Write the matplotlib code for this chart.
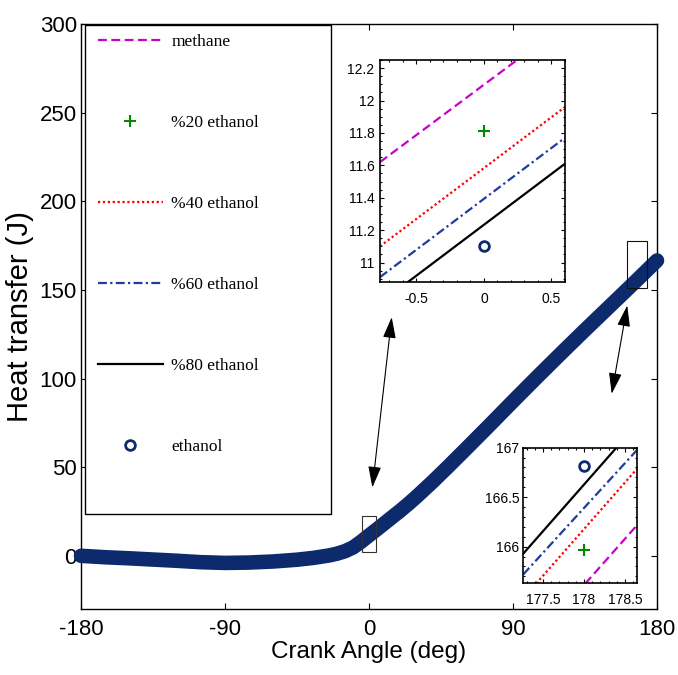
import matplotlib
matplotlib.use("Agg")
import matplotlib.pyplot as plt
from matplotlib.patches import Rectangle
from matplotlib.ticker import MultipleLocator

# ---------------- data ----------------
crank_angle = [-180, -165, -150, -135, -120, -105, -90, -75, -60, -45, -35, -25, -20, -15, -10, -5,
               0, 5, 10, 15, 20, 25, 30, 40, 50, 60, 75, 90, 105, 120, 135, 150, 165, 180]
heat_transfer = [0.0, -0.8, -1.4, -2.1, -2.8, -3.6, -4.0, -3.8, -3.2, -2.2, -1.2, 0.2, 1.2, 2.6, 4.7,
                 7.9, 11.5, 15.0, 18.6, 22.2, 25.8, 29.6, 33.6, 42.0, 50.8, 59.8, 73.4, 87.2,
                 100.8, 114.2, 127.4, 140.4, 153.4, 166.6]

series_names = ["methane", "%20 ethanol", "%40 ethanol", "%60 ethanol", "%80 ethanol", "ethanol"]

# zoom near 0 deg
zoom1_x = [-0.77, 0.6]
zoom1_methane = [11.62, 12.47]
zoom1_p40 = [11.10, 11.96]
zoom1_p60 = [10.91, 11.77]
zoom1_p80 = [10.75, 11.61]
zoom1_pt_x = [0]
zoom1_p20 = [11.81]
zoom1_eth = [11.10]

# zoom near 178 deg
zoom2_x = [177.26, 178.65]
zoom2_methane = [164.92, 166.22]
zoom2_p40 = [165.48, 166.79]
zoom2_p60 = [165.72, 166.98]
zoom2_p80 = [165.93, 167.24]
zoom2_pt_x = [178]
zoom2_p20 = [165.97]
zoom2_eth = [166.82]

x_ticks = [-180, -90, 0, 90, 180]
y_ticks = [0, 50, 100, 150, 200, 250, 300]

# ---------------- style ----------------
SANS = ["Liberation Sans", "DejaVu Sans"]
SERIF = ["Liberation Serif", "DejaVu Serif"]

C_MAG = "#cc00cc"
C_GRN = "#008a00"
C_RED = "#ff0000"
C_BLU = "#1f3c9e"
C_BLK = "#000000"
C_NAVY = "#0c2a6c"

W, H = 678, 675
fig = plt.figure(figsize=(W / 100, H / 100), dpi=100)

def fx(px):
    return px / W

def fy(py):
    return 1 - py / H

# main axes: px left 81, right 657, top 24, bottom 609
ax = fig.add_axes([fx(81), fy(609), (657 - 81) / W, (609 - 24) / H])
ax.plot(crank_angle, heat_transfer, color=C_NAVY, lw=10.5, solid_capstyle="round",
        solid_joinstyle="round", zorder=3, clip_on=False)
ax.set_xlim(-180, 180)
ax.set_ylim(-30, 300)
ax.set_xticks(x_ticks)
ax.set_yticks(y_ticks)
ax.set_xticklabels([str(v) for v in x_ticks], family=SANS, fontsize=16)
ax.set_yticklabels([str(v) for v in y_ticks], family=SANS, fontsize=16)
ax.tick_params(direction="in", top=True, right=True, length=4, width=0.8)
ax.tick_params(axis="x", pad=7)
ax.tick_params(axis="y", pad=3)
for s in ax.spines.values():
    s.set_linewidth(1.0)
ax.set_xlabel("Crank Angle (deg)", family=SANS, fontsize=17.5, labelpad=1)
ax.set_ylabel("Heat transfer (J)", family=SANS, fontsize=21, labelpad=4)

# zoom rectangles
ax.add_patch(Rectangle((-4.6, 2.3), 8.8, 20.3, fill=False, ec="#333333", lw=0.8, zorder=4))
ax.add_patch(Rectangle((161.4, 151.0), 12.2, 26.4, fill=False, ec="#111111", lw=0.8, zorder=4))

# double arrows
arrow_kw = dict(arrowstyle="<|-|>,head_length=1.3,head_width=0.4", color="black", lw=0.8,
                shrinkA=0, shrinkB=0)
ax.annotate("", xy=(14.2, 134.6), xytext=(2.1, 38.6), arrowprops=arrow_kw, zorder=5)
ax.annotate("", xy=(161.4, 141.2), xytext=(151.7, 91.4), arrowprops=arrow_kw, zorder=5)

# legend frame (MATLAB style box)
ax.add_patch(Rectangle((fx(85), fy(514)), (330.7 - 85) / W, (514 - 25) / H,
                       transform=fig.transFigure, fill=True, fc="white", ec="black",
                       lw=1.0, zorder=6))

def style_inset(a, xt, yt, xlabels, ylabels, xminor, yminor, ypad):
    a.set_xticks(xt)
    a.set_yticks(yt)
    a.set_xticklabels(xlabels, family=SANS, fontsize=10)
    a.set_yticklabels(ylabels, family=SANS, fontsize=10)
    a.xaxis.set_minor_locator(MultipleLocator(xminor))
    a.yaxis.set_minor_locator(MultipleLocator(yminor))
    a.tick_params(which="both", direction="in", top=True, right=True, width=0.8)
    a.tick_params(which="major", length=3)
    a.tick_params(which="minor", length=1.5)
    a.tick_params(axis="x", pad=7)
    a.tick_params(axis="y", pad=ypad)
    for s in a.spines.values():
        s.set_linewidth(1.2)

# inset 1: px left 380, right 565, top 60, bottom 282
ax1 = fig.add_axes([fx(380), fy(282), (565 - 380) / W, (282 - 60) / H])
l_meth, = ax1.plot(zoom1_x, zoom1_methane, color=C_MAG, ls=(0, (4, 2)), lw=1.6)
l_p20, = ax1.plot(zoom1_pt_x, zoom1_p20, color=C_GRN, ls="none", marker="+", ms=8, mew=1.5)
l_p40, = ax1.plot(zoom1_x, zoom1_p40, color=C_RED, ls=(0, (1, 1.2)), lw=1.6)
l_p60, = ax1.plot(zoom1_x, zoom1_p60, color=C_BLU, ls=(0, (4, 1.5, 1, 1.5)), lw=1.6)
l_p80, = ax1.plot(zoom1_x, zoom1_p80, color=C_BLK, ls="-", lw=1.6)
l_eth, = ax1.plot(zoom1_pt_x, zoom1_eth, color=C_NAVY, ls="none", marker="o", ms=7, mew=2,
                  mfc="none")
ax1.set_xlim(-0.77, 0.6)
ax1.set_ylim(10.88, 12.25)
style_inset(ax1, [-0.5, 0, 0.5], [11, 11.2, 11.4, 11.6, 11.8, 12, 12.2],
            ["-0.5", "0", "0.5"], ["11", "11.2", "11.4", "11.6", "11.8", "12", "12.2"],
            0.1, 0.05, 4)

# inset 2: px left 523, right 637, top 448, bottom 583
ax2 = fig.add_axes([fx(523.3), fy(583.3), (637.3 - 523.3) / W, (583.3 - 447.7) / H])
ax2.plot(zoom2_x, zoom2_methane, color=C_MAG, ls=(0, (4, 2)), lw=1.6)
ax2.plot(zoom2_pt_x, zoom2_p20, color=C_GRN, ls="none", marker="+", ms=8, mew=1.5)
ax2.plot(zoom2_x, zoom2_p40, color=C_RED, ls=(0, (1, 1.2)), lw=1.6)
ax2.plot(zoom2_x, zoom2_p60, color=C_BLU, ls=(0, (4, 1.5, 1, 1.5)), lw=1.6)
ax2.plot(zoom2_x, zoom2_p80, color=C_BLK, ls="-", lw=1.6)
ax2.plot(zoom2_pt_x, zoom2_eth, color=C_NAVY, ls="none", marker="o", ms=7, mew=2, mfc="none")
ax2.set_xlim(177.26, 178.65)
ax2.set_ylim(165.63, 167.0)
style_inset(ax2, [177.5, 178, 178.5], [166, 166.5, 167],
            ["177.5", "178", "178.5"], ["166", "166.5", "167"], 0.1, 0.1, 3)

# legend
leg = ax.legend(handles=[l_meth, l_p20, l_p40, l_p60, l_p80, l_eth], labels=series_names,
                loc="upper left", bbox_to_anchor=(fx(98.3), fy(34.0)),
                bbox_transform=fig.transFigure, frameon=False, borderpad=0,
                borderaxespad=0, handlelength=3.7, handletextpad=0.5, labelspacing=3.73,
                prop={"family": SERIF, "size": 12.5})
leg.set_zorder(7)

fig.savefig("out.png", dpi=100)
